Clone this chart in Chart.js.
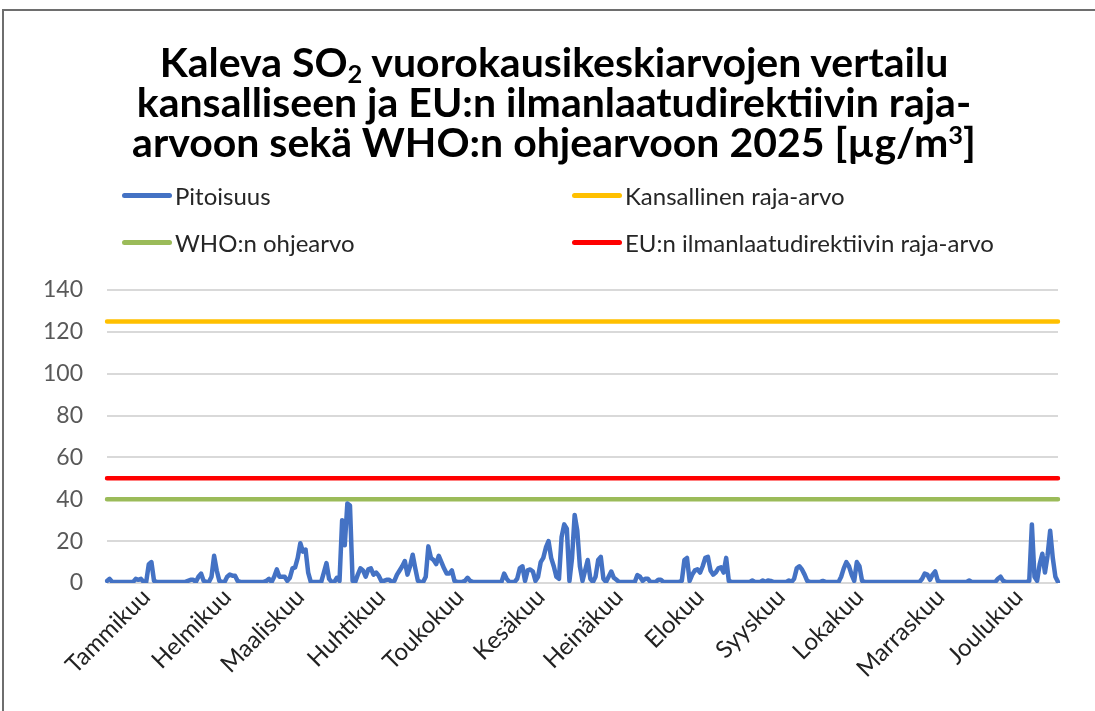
<!DOCTYPE html>
<html lang="fi">
<head>
<meta charset="utf-8">
<title>Kaleva SO2 2025</title>
<script src="https://cdn.jsdelivr.net/npm/chart.js@4.4.1/dist/chart.umd.min.js"></script>
<style>
  html, body { margin: 0; padding: 0; background: #fff; overflow: hidden; }
  body { width: 1095px; height: 711px; position: relative; font-family: Lato, "Open Sans", sans-serif; }
  #frame { position: absolute; left: 2px; top: 9px; width: 1110px; height: 720px; border-left: 2px solid #6e6e6e; border-top: 2px solid #6e6e6e; }
  #chart-wrap { position: absolute; left: 0; top: 0; width: 1095px; height: 711px; }
  #title { position: absolute; left: 54px; top: 42px; width: 1000px; margin: 0; text-align: center;
    font-size: 41px; line-height: 40px; font-weight: bold; color: #000; }
  #title sub { font-size: 0.62em; line-height: 0; vertical-align: -0.22em; }
  #title sup { font-size: 0.62em; line-height: 0; vertical-align: 0.5em; }
  #legend { position: absolute; left: 122px; top: 180px; display: grid; grid-template-columns: 450px 450px; grid-auto-rows: 30px; row-gap: 17px; }
  .legend-item { display: flex; align-items: center; font-size: 24px; color: #262626; }
  .swatch { display: inline-block; width: 50px; height: 5px; border-radius: 3px; margin-right: 3px; }
</style>
</head>
<body>
<div id="frame"></div>
<div id="chart-wrap"><canvas id="chart-so2" width="1095" height="711"></canvas></div>
<h1 id="title">Kaleva SO<sub>2</sub> vuorokausikeskiarvojen vertailu<br>kansalliseen ja EU:n ilmanlaatudirektiivin raja-<br>arvoon sekä WHO:n ohjearvoon 2025 [µg/m<sup>3</sup>]</h1>
<div id="legend"></div>
<script>
// month names shown on the x axis
const MONTHS = ["Tammikuu", "Helmikuu", "Maaliskuu", "Huhtikuu", "Toukokuu", "Kesäkuu",
  "Heinäkuu", "Elokuu", "Syyskuu", "Lokakuu", "Marraskuu", "Joulukuu"];

// daily SO2 means (µg/m³), one array per month
const JAN = [1, 2, 0.5, 0.5, 0.5, 0.5, 0.5, 0.5, 0.5, 0.5, 0.5, 2, 1.5, 2, 0.5, 0.5, 9, 10, 1, 0.5,
  0.5, 0.5, 0.5, 0.5, 0.5, 0.5, 0.5, 0.5, 0.5, 0.5, 0.5];
const FEB = [1, 1.5, 1.5, 0.5, 3, 4.5, 1, 0.5, 0.5, 3, 13, 6, 1, 0.5, 0.5, 3, 4, 3.5, 3.5, 1,
  0.5, 0.5, 0.5, 0.5, 0.5, 0.5, 0.5, 0.5];
const MAR = [0.5, 0.5, 1, 2, 0.5, 3, 6.5, 3, 3, 3, 1, 2.5, 7, 7.5, 12, 19, 15, 16, 5, 0.5,
  0.5, 0.5, 0.5, 0.5, 5, 9.5, 2, 0.5, 0.5, 2.5, 1];
const APR = [30, 18, 38, 37, 1, 0.5, 4, 7, 6, 3, 6.5, 7, 4, 5, 3.5, 1, 1, 1.5, 1.5, 0.5,
  1, 4, 6, 8, 10.5, 4, 8, 13.5, 7, 1];
const MAY = [0.5, 0.5, 3, 17.5, 12, 11, 9, 13, 10, 7, 4.5, 4.5, 6, 1, 0.5, 0.5, 0.5, 1, 2.5, 1,
  0.5, 0.5, 0.5, 0.5, 0.5, 0.5, 0.5, 0.5, 0.5, 0.5, 0.5];
const JUN = [0.5, 4.5, 2, 0.5, 0.5, 0.5, 2, 7, 8, 1, 6, 6.5, 5.5, 1, 3, 10, 12, 17, 20, 12,
  8, 3, 2, 22, 28, 26, 1, 12, 32.5, 25];
const JUL = [8, 1, 6, 11, 2, 0.5, 3, 11, 12.5, 2, 0.5, 3, 5.5, 2.5, 1.5, 0.5, 0.5, 0.5, 0.5, 0.5,
  0.5, 0.5, 3.8, 3, 1, 2, 2, 0.5, 0.5, 0.5, 1.5];
const AUG = [1.5, 0.5, 0.5, 0.5, 0.5, 0.5, 0.5, 0.5, 1, 11, 12, 1, 4, 6, 6.5, 5, 8, 12, 12.5, 6,
  4, 5, 7, 7.5, 5, 12, 1, 0.5, 0.5, 0.5, 0.5];
const SEP = [0.5, 0.5, 0.5, 0.5, 1.2, 0.5, 0.5, 0.5, 1.2, 0.5, 1.2, 1, 0.5, 0.5, 0.5, 0.5, 0.5, 0.5, 1.2, 0.5,
  2, 7, 8, 6.5, 4, 1, 0.5, 0.5, 0.5, 0.5];
const OCT = [0.5, 1, 0.5, 0.5, 0.5, 0.5, 0.5, 0.5, 3, 7, 10, 8, 4, 1, 10, 8, 1, 0.5, 0.5, 0.5,
  0.5, 0.5, 0.5, 0.5, 0.5, 0.5, 0.5, 0.5, 0.5, 0.5, 0.5];
const NOV = [0.5, 0.5, 0.5, 0.5, 0.5, 0.5, 0.5, 0.5, 2, 4.5, 4, 1.5, 4, 5.5, 1, 0.5, 0.5, 0.5, 0.5, 0.5,
  0.5, 0.5, 0.5, 0.5, 0.5, 0.5, 1.2, 0.5, 0.5, 0.5];
const DEC = [0.5, 0.5, 0.5, 0.5, 0.5, 0.5, 0.5, 2, 3, 1, 0.5, 0.5, 0.5, 0.5, 0.5, 0.5, 0.5, 0.5, 0.5, 1,
  28, 3, 1, 9, 14, 5, 13, 25, 12, 3, 0.5];

const DAILY_BY_MONTH = [JAN, FEB, MAR, APR, MAY, JUN, JUL, AUG, SEP, OCT, NOV, DEC];

// limit values (µg/m³)
const NATIONAL_LIMIT = 125;
const WHO_GUIDELINE = 40;
const EU_LIMIT = 50;

const Y_MIN = 0;
const Y_MAX = 140;
const Y_STEP = 20;

const COLORS = { series: "#4472C4", national: "#FFC000", who: "#9BBB59", eu: "#FF0000" };

// day labels + month name on the 16th of each month
const dayLabels = [];
const tickText = [];
const concentration = [];
DAILY_BY_MONTH.forEach((days, m) => {
  days.forEach((v, d) => {
    dayLabels.push(`${d + 1}.${m + 1}.2025`);
    tickText.push(d === 15 ? MONTHS[m] : "");
    concentration.push(v);
  });
});

const first = dayLabels[0];
const last = dayLabels[dayLabels.length - 1];
const flatLine = (value) => [{ x: first, y: value }, { x: last, y: value }];

const htmlLegend = {
  id: "htmlLegend",
  afterUpdate(chart) {
    const box = document.getElementById("legend");
    box.innerHTML = "";
    chart.data.datasets.forEach((ds) => {
      const item = document.createElement("div");
      item.className = "legend-item";
      item.innerHTML = `<span class="swatch" style="background:${ds.borderColor}"></span><span>${ds.label}</span>`;
      box.appendChild(item);
    });
  },
};

const lineStyle = { borderWidth: 4.5, pointRadius: 0, borderCapStyle: "round", borderJoinStyle: "round", tension: 0, fill: false };

new Chart(document.getElementById("chart-so2"), {
  type: "line",
  data: {
    labels: dayLabels,
    datasets: [
      { label: "Pitoisuus", data: concentration, borderColor: COLORS.series, backgroundColor: COLORS.series, ...lineStyle },
      { label: "Kansallinen raja-arvo", data: flatLine(NATIONAL_LIMIT), borderColor: COLORS.national, backgroundColor: COLORS.national, ...lineStyle },
      { label: "WHO:n ohjearvo", data: flatLine(WHO_GUIDELINE), borderColor: COLORS.who, backgroundColor: COLORS.who, ...lineStyle },
      { label: "EU:n ilmanlaatudirektiivin raja-arvo", data: flatLine(EU_LIMIT), borderColor: COLORS.eu, backgroundColor: COLORS.eu, ...lineStyle },
    ],
  },
  options: {
    responsive: false,
    animation: false,
    layout: { padding: { left: 0, right: 37, top: 290, bottom: 0 } },
    plugins: {
      legend: { display: false },
      tooltip: { enabled: false },
    },
    scales: {
      x: {
        grid: { display: false, drawTicks: false },
        border: { display: false },
        afterFit: (scale) => { scale.height = 128; },
        ticks: {
          autoSkip: false,
          minRotation: 45,
          maxRotation: 45,
          padding: 0,
          color: "#222",
          font: { family: "Lato", size: 24 },
          callback: (value, index) => tickText[index],
        },
      },
      y: {
        min: Y_MIN,
        max: Y_MAX,
        grid: { color: "#D9D9D9", lineWidth: 2, drawTicks: false },
        border: { display: false },
        afterFit: (scale) => { scale.width = 107; },
        ticks: { stepSize: Y_STEP, padding: 24, color: "#595959", font: { family: "Lato", size: 23 } },
      },
    },
  },
  plugins: [htmlLegend],
});
</script>
</body>
</html>
